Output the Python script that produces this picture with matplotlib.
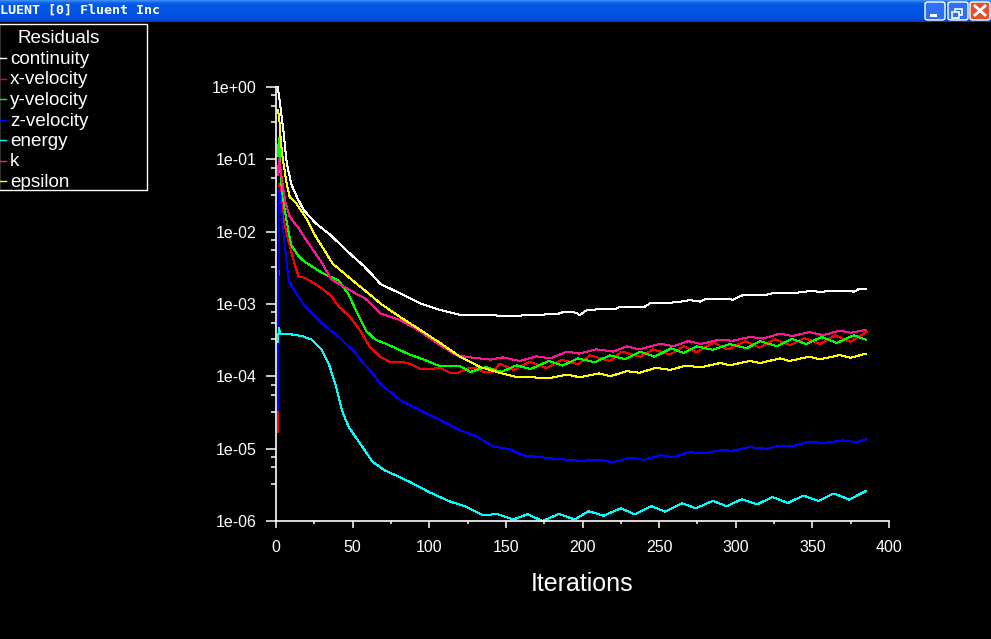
import matplotlib
matplotlib.use("Agg")
import matplotlib.pyplot as plt
from matplotlib.patches import Rectangle, FancyBboxPatch
from matplotlib.lines import Line2D
from matplotlib.ticker import FixedLocator, NullFormatter
import numpy as np

plt.rcParams['font.family'] = ['Liberation Sans', 'DejaVu Sans']

# ---------------- data ----------------
series_names = ["continuity", "x-velocity", "y-velocity", "z-velocity", "energy", "k", "epsilon"]
series_colors = ["#FFFFFF", "#FF0000", "#00FF00", "#0000FF", "#00FFFF", "#FF1493", "#FFFF00"]

it_continuity = [1, 2, 3, 5, 7, 10, 14, 18, 26, 35, 49, 57, 63, 68, 81, 94, 107, 120, 133, 146, 157,
                 164, 183, 188, 196, 198, 203, 214, 222, 224, 233, 240, 244, 255, 264, 270, 277,
                 281, 296, 298, 305, 320, 324, 335, 344, 349, 355, 362, 376, 377, 380, 385]
res_continuity = [1.0, 0.75, 0.5, 0.23, 0.089, 0.045, 0.029, 0.02, 0.013, 0.0092, 0.0048, 0.0034,
                  0.0025, 0.0019, 0.0014, 0.00102, 0.00083, 0.00071, 0.00071, 0.00069, 0.00068,
                  0.00071, 0.00072, 0.00078, 0.00076, 0.0007, 0.00083, 0.00085, 0.00086, 0.0009,
                  0.00091, 0.0009, 0.00102, 0.00103, 0.00108, 0.00113, 0.00108, 0.00119, 0.00119,
                  0.00114, 0.00134, 0.00134, 0.00141, 0.00141, 0.00146, 0.00153, 0.00146, 0.00153,
                  0.00153, 0.00146, 0.0016, 0.00163]

it_xvel = [1, 2, 3, 5, 8, 12.6, 14.8, 19, 30, 36.5, 41, 48, 55, 61, 68, 74, 81, 87, 94, 100, 107,
           113, 118, 124, 130, 136, 141, 146, 155, 165.7, 176.6, 186.4, 197, 205, 218, 225.6, 237.5,
           246, 257, 266, 274.5, 285.4, 295, 306, 315.8, 325.6, 335.4, 345, 355, 364.8, 374.5, 385.4]
res_xvel = [1.7e-5, 0.045, 0.04, 0.0145, 0.0076, 0.0033, 0.0024, 0.0023, 0.00165, 0.00126, 0.00092,
            0.00067, 0.00043, 0.00026, 0.000187, 0.000159, 0.00016, 0.00015, 0.000128, 0.000125,
            0.000132, 0.000113, 0.00011, 0.000128, 0.00013, 0.000113, 0.000113, 0.00015, 0.000122,
            0.000159, 0.00013, 0.00017, 0.000147, 0.000195, 0.000163, 0.00022, 0.000187, 0.000236,
            0.0002, 0.00026, 0.000215, 0.000292, 0.000235, 0.000307, 0.00025, 0.000326, 0.00027,
            0.000338, 0.00028, 0.00037, 0.0003, 0.00041]

it_yvel = [1, 2, 3, 4, 6, 8, 10, 15, 19, 30, 41, 47, 54, 59, 65, 72, 81, 87, 94, 100, 107, 113, 120,
           127, 137, 147, 157, 166, 178, 187, 197, 208, 218, 228, 237.5, 247, 258, 266, 274.5, 285,
           296, 307, 316, 327, 336.5, 346, 356, 366, 377, 385]
res_yvel = [0.11, 0.2, 0.06, 0.035, 0.018, 0.0105, 0.0065, 0.0045, 0.0038, 0.0027, 0.0021, 0.0014,
            0.00068, 0.00042, 0.00032, 0.00028, 0.00023, 0.0002, 0.000178, 0.000159, 0.000138,
            0.000138, 0.000138, 0.000115, 0.000135, 0.000115, 0.000142, 0.000126, 0.000163, 0.000141,
            0.000177, 0.000157, 0.000195, 0.000173, 0.00022, 0.000187, 0.000244, 0.00021, 0.00026,
            0.000233, 0.00028, 0.000244, 0.000306, 0.00026, 0.00033, 0.00028, 0.00035, 0.00029,
            0.00037, 0.00032]

it_zvel = [1, 2, 4, 6, 8.3, 10.4, 19, 30, 41, 52, 55, 63, 68, 81, 94, 107, 120, 131, 142, 153, 161,
           181, 198, 211, 220, 231, 240, 251, 259, 270, 279, 290, 298, 309, 320, 329, 337, 348, 357,
           370, 379, 385]
res_zvel = [3.4e-5, 0.04, 0.0145, 0.0056, 0.0021, 0.00173, 0.00092, 0.00054, 0.00035, 0.00021,
            0.00017, 0.00011, 7.9e-5, 4.7e-5, 3.4e-5, 2.5e-5, 1.8e-5, 1.47e-5, 1.07e-5, 9.8e-6,
            8.1e-6, 7.3e-6, 6.8e-6, 7.0e-6, 6.5e-6, 7.5e-6, 7.0e-6, 8.1e-6, 7.6e-6, 9.0e-6, 8.6e-6,
            9.5e-6, 9.4e-6, 1.05e-5, 1.0e-5, 1.1e-5, 1.09e-5, 1.25e-5, 1.2e-5, 1.3e-5, 1.23e-5, 1.35e-5]

it_energy = [1, 2, 3, 4, 10, 17, 23.5, 30, 34.4, 38.7, 43, 47.4, 54, 63, 71, 75, 87, 100, 113.5, 124,
             135, 144, 155, 164, 174, 184.5, 195, 204, 213.6, 225, 234, 245, 254, 265, 274, 285, 294,
             304, 314, 324, 334, 344, 354, 364, 374, 385]
res_energy = [3.0e-4, 4.6e-4, 3.8e-4, 3.9e-4, 3.8e-4, 3.6e-4, 3.2e-4, 2.3e-4, 1.5e-4, 7.9e-5, 3.4e-5,
              2.0e-5, 1.25e-5, 6.6e-6, 5.0e-6, 4.6e-6, 3.5e-6, 2.5e-6, 1.86e-6, 1.58e-6, 1.2e-6,
              1.25e-6, 1.05e-6, 1.24e-6, 1.0e-6, 1.25e-6, 1.05e-6, 1.37e-6, 1.18e-6, 1.5e-6, 1.24e-6,
              1.6e-6, 1.35e-6, 1.76e-6, 1.5e-6, 1.9e-6, 1.6e-6, 2.0e-6, 1.7e-6, 2.15e-6, 1.77e-6,
              2.25e-6, 1.9e-6, 2.4e-6, 1.98e-6, 2.6e-6]

it_k = [1, 2, 3, 4, 6, 9, 15, 20, 30, 36, 45, 52, 58, 63, 68, 81, 94, 107, 118, 127, 140, 148, 159,
        170, 179, 190, 198, 209, 220, 229, 237, 251, 259, 269, 277, 290, 298, 309, 318, 329, 337, 348,
        357, 368, 375, 385]
res_k = [0.06, 0.1, 0.07, 0.05, 0.026, 0.016, 0.011, 0.0075, 0.0037, 0.0022, 0.0017, 0.0014, 0.0012,
         0.00095, 0.00074, 0.0006, 0.00042, 0.00027, 0.000195, 0.000183, 0.00017, 0.000183, 0.000163,
         0.000189, 0.000177, 0.00022, 0.000206, 0.000236, 0.00022, 0.00026, 0.000236, 0.000283, 0.00026,
         0.000307, 0.00028, 0.000323, 0.00031, 0.00035, 0.000333, 0.00039, 0.00036, 0.00041, 0.00037,
         0.00043, 0.0004, 0.00044]

it_epsilon = [1, 2, 3, 4, 5, 7, 9, 13, 20, 26, 31, 37, 45, 54, 63, 68, 81, 94, 107, 120, 133, 146, 157,
              179, 190, 198, 211, 218, 229, 237, 248, 257, 268, 277, 290, 296, 309, 316, 329, 335, 348,
              355, 368, 375, 385]
res_epsilon = [0.48, 0.4, 0.2, 0.12, 0.085, 0.045, 0.03, 0.025, 0.015, 0.0085, 0.0058, 0.0036, 0.0026,
               0.0018, 0.00126, 0.00102, 0.00066, 0.00044, 0.00029, 0.000187, 0.000135, 0.000112,
               0.000098, 0.000095, 0.000106, 0.000097, 0.00011, 0.0001, 0.000118, 0.000112, 0.000131,
               0.000123, 0.000141, 0.000133, 0.000153, 0.000142, 0.000163, 0.000153, 0.000177,
               0.000163, 0.000187, 0.000172, 0.000197, 0.000181, 0.000206]

x_ticks = [0, 50, 100, 150, 200, 250, 300, 350, 400]
y_ticks = [1e-6, 1e-5, 1e-4, 1e-3, 1e-2, 1e-1, 1e0]
y_tick_labels = ["1e-06", "1e-05", "1e-04", "1e-03", "1e-02", "1e-01", "1e+00"]
window_title = "LUENT [0] Fluent Inc"
legend_title = "Residuals"
x_label = "Iterations"

all_iters = [it_continuity, it_xvel, it_yvel, it_zvel, it_energy, it_k, it_epsilon]
all_res = [res_continuity, res_xvel, res_yvel, res_zvel, res_energy, res_k, res_epsilon]

# ---------------- figure ----------------
W, H = 991, 639
fig = plt.figure(figsize=(W / 100, H / 100), dpi=100, facecolor="black")


def fx(px):
    return px / W


def fy(py):
    return 1 - py / H


ax = fig.add_axes([fx(276), fy(521), fx(889) - fx(276), fy(87) - fy(521)])
ax.set_facecolor("black")
ax.set_yscale("log")
ax.set_xlim(0, 400)
ax.set_ylim(1e-6, 1)

for s in ("top", "right"):
    ax.spines[s].set_visible(False)
for s in ("left", "bottom"):
    ax.spines[s].set_color("white")
    ax.spines[s].set_linewidth(1.2)

ax.set_xticks(x_ticks)
ax.set_xticklabels([str(t) for t in x_ticks])
ax.xaxis.set_minor_locator(FixedLocator([t + 25 for t in x_ticks[:-1]]))
ax.set_yticks(y_ticks)
ax.set_yticklabels(y_tick_labels)
minor_y = [d * f for d in y_ticks[1:] for f in (0.767, 0.55, 0.324)]
ax.yaxis.set_minor_locator(FixedLocator(minor_y))
ax.yaxis.set_minor_formatter(NullFormatter())

ax.tick_params(axis="x", which="major", direction="out", length=4.7, width=1.1,
               colors="white", labelsize=11.5, pad=9)
ax.tick_params(axis="x", which="minor", direction="out", length=2.4, width=1.1, colors="white")
ax.tick_params(axis="y", which="major", direction="out", length=7.2, width=1.1,
               colors="white", labelsize=11.5, pad=7)
ax.tick_params(axis="y", which="minor", direction="out", length=3.6, width=1.1, colors="white")

ax.set_xlabel(x_label, color="white", fontsize=18)
ax.xaxis.set_label_coords(0.5, -(584 - 521) / (521 - 87))
ax.xaxis.label.set_va("center")

for its, res, col in zip(all_iters, all_res, series_colors):
    ax.plot(its, res, color=col, lw=0.72, antialiased=False, clip_on=False)

# ---------------- legend box ----------------
fig.add_artist(Rectangle((fx(-1), fy(190)), fx(148), 166 / H, transform=fig.transFigure,
                         facecolor="black", edgecolor="white", lw=1.0))
fig.text(fx(58.5), fy(43), legend_title, color="white", fontsize=13.6, ha="center", va="baseline")
for i, (name, col) in enumerate(zip(series_names, series_colors)):
    base = 64 + i * 20.5
    fig.add_artist(Line2D([fx(0), fx(6)], [fy(base - 6), fy(base - 6)], color=col, lw=1.0,
                          transform=fig.transFigure))
    fig.text(fx(10), fy(base), name, color="white", fontsize=13.6, ha="left", va="baseline")

# ---------------- window title bar ----------------
bar_ax = fig.add_axes([0, fy(22), 1, 22 / H])
bar_ax.set_axis_off()
grad = np.array([[0x3B, 0x8C, 0xF5], [0x26, 0x78, 0xF0], [0x14, 0x68, 0xEB], [0x0A, 0x5F, 0xE8],
                 [0x05, 0x5A, 0xE6], [0x03, 0x57, 0xE5], [0x02, 0x56, 0xE4], [0x02, 0x55, 0xE4],
                 [0x02, 0x55, 0xE4], [0x02, 0x55, 0xE3], [0x02, 0x54, 0xE3], [0x02, 0x54, 0xE3],
                 [0x02, 0x53, 0xE2], [0x02, 0x53, 0xE2], [0x02, 0x52, 0xE1], [0x02, 0x51, 0xE0],
                 [0x02, 0x50, 0xDF], [0x02, 0x4E, 0xDD], [0x02, 0x4C, 0xDA], [0x02, 0x49, 0xD6],
                 [0x02, 0x44, 0xD0], [0x00, 0x3C, 0xC4]]) / 255.0
bar_ax.imshow(grad[:, None, :], aspect="auto", extent=[0, 1, 0, 1], interpolation="nearest")
bar_ax.set_xlim(0, 1)
bar_ax.set_ylim(0, 1)
fig.text(fx(0), fy(14), window_title, color="white", fontsize=9.6, family="DejaVu Sans Mono",
         fontweight="bold", ha="left", va="baseline")

# buttons
btns = [(925, "#2F6FF2"), (948, "#2F6FF2"), (970, "#E2512F")]
for bx, bc in btns:
    fig.add_artist(FancyBboxPatch((fx(bx), fy(20)), 20 / W, 18 / H,
                                  boxstyle="round,pad=0,rounding_size=0.003",
                                  transform=fig.transFigure, facecolor=bc, edgecolor="white", lw=1.0))
# minimize glyph
fig.add_artist(Rectangle((fx(930), fy(16.5)), 7 / W, 2.5 / H, transform=fig.transFigure,
                         facecolor="white", edgecolor="none"))
# restore glyph
fig.add_artist(Rectangle((fx(955), fy(15)), 7 / W, 6 / H, transform=fig.transFigure,
                         facecolor="none", edgecolor="white", lw=1.2))
fig.add_artist(Rectangle((fx(952), fy(18)), 7 / W, 6 / H, transform=fig.transFigure,
                         facecolor="#2F6FF2", edgecolor="white", lw=1.2))
# close glyph
fig.add_artist(Line2D([fx(975), fx(985)], [fy(6), fy(15)], color="white", lw=2.0,
                      transform=fig.transFigure))
fig.add_artist(Line2D([fx(975), fx(985)], [fy(15), fy(6)], color="white", lw=2.0,
                      transform=fig.transFigure))

fig.savefig("out.png", dpi=100, facecolor="black")
